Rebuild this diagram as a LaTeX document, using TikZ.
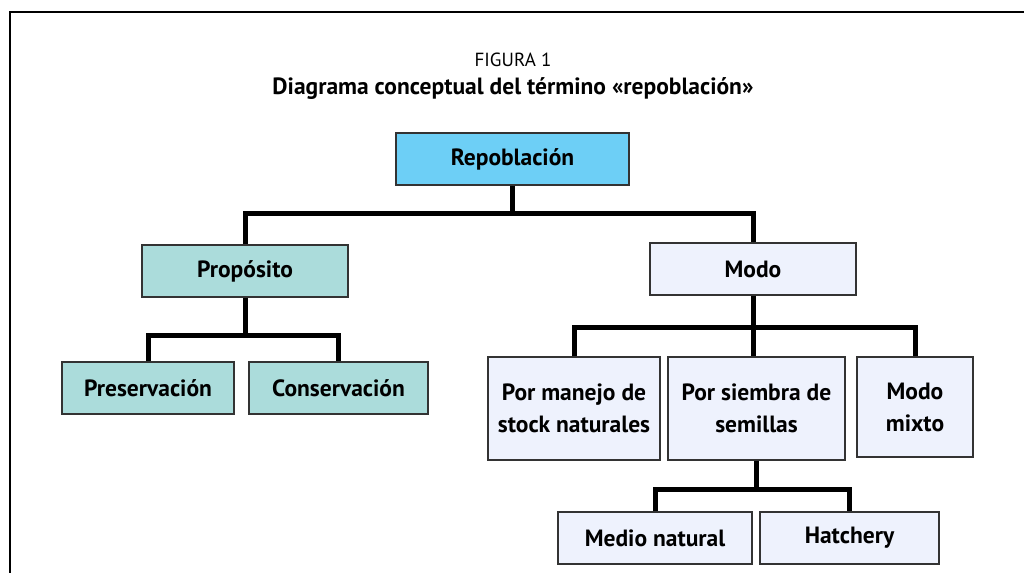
\documentclass[tikz,border=0pt]{standalone}
\usepackage{fontspec}
\setmainfont{PT Sans}
\begin{document}
\begin{tikzpicture}[x=1pt,y=-1pt,
  box/.style={draw=black!80,line width=1.3pt,minimum height=52pt,inner sep=0pt,align=center,
    font=\fontsize{23.5}{32}\selectfont\bfseries},
  cyanbox/.style={box,fill={rgb,255:red,109;green,207;blue,246}},
  tealbox/.style={box,fill={rgb,255:red,171;green,220;blue,219}},
  palebox/.style={box,fill={rgb,255:red,238;green,242;blue,253}},
  conn/.style={line width=5pt,line cap=butt}]
\useasboundingbox (0,0) rectangle (1024,573);
\draw[line width=2pt] (1024,12) -- (10,12) -- (10,573);
\node[font=\fontsize{19}{22}\selectfont] (fig) at (513,60) {FIGURA 1};
\node[font=\fontsize{23.5}{26}\selectfont\bfseries] (title) at (513,89) {Diagrama conceptual del término «repoblación»};
\node[cyanbox,minimum width=233pt] (rep) at (512.5,159) {Repoblación};
\node[tealbox,minimum width=206pt] (prop) at (245,271) {Propósito};
\node[palebox,minimum width=206pt] (modo) at (753,269) {Modo};
\node[tealbox,minimum width=172pt] (pres) at (148,388) {Preservación};
\node[tealbox,minimum width=179pt] (cons) at (338.5,388) {Conservación};
\node[palebox,minimum width=172pt,minimum height=103pt] (man) at (574,408.5) {Por manejo de\\stock naturales};
\node[palebox,minimum width=177pt,minimum height=103pt] (sie) at (756.5,408.5) {Por siembra de\\semillas};
\node[palebox,minimum width=116pt,minimum height=100pt] (mix) at (915,407) {Modo\\mixto};
\node[palebox,minimum width=194pt] (med) at (655,538) {Medio natural};
\node[palebox,minimum width=179pt] (hat) at (849.5,538) {Hatchery};
% connectors
\draw[conn] (rep.south) -- ++(0,29);
\draw[conn] (prop.north) -- ++(0,-31) -| (modo.north);
\draw[conn] (prop.south) -- ++(0,39);
\draw[conn] (pres.north) -- ++(0,-26) -| (cons.north);
\draw[conn] (modo.south) -- (modo.south |- sie.north);
\draw[conn] (man.north) -- ++(0,-29) -| (mix.north);
\draw[conn] (sie.south) -- ++(0,30);
\draw[conn] (med.north) -- ++(0,-22) -| (hat.north);
\end{tikzpicture}
\end{document}
